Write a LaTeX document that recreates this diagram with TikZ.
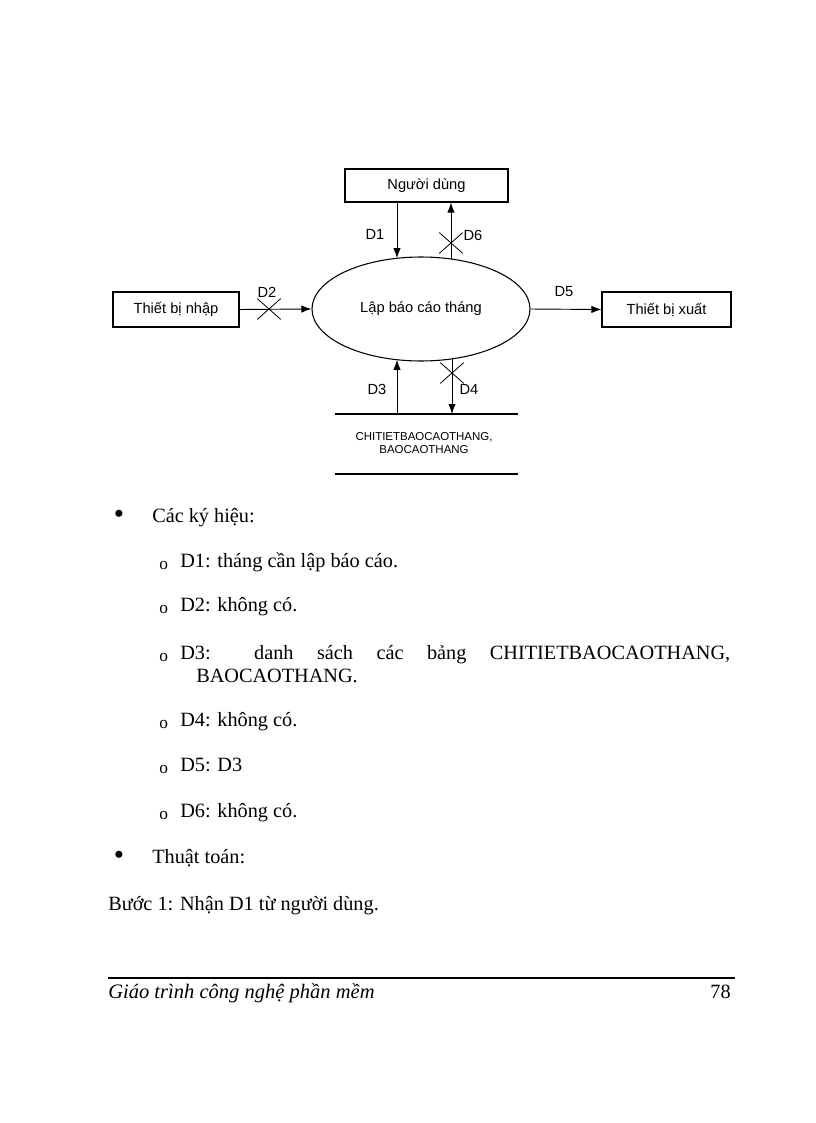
\documentclass[tikz,border=0pt]{standalone}
\usepackage{fontspec}
\setmainfont{Liberation Serif}
\newfontfamily\arialfont{Liberation Sans}
\usetikzlibrary{arrows.meta,shapes.misc,shapes.geometric}
\begin{document}
\begin{tikzpicture}[x=0.75pt,y=-0.75pt,
  box/.style={draw, line width=0.8pt, inner sep=0pt, font=\arialfont\fontsize{11}{13}\selectfont},
  proc/.style={draw, ellipse, line width=0.8pt, inner sep=0pt, minimum width=163.5pt, minimum height=78pt, font=\arialfont\fontsize{11}{13}\selectfont},
  flow/.style={line width=0.7pt, -{Latex[length=7.5pt,width=5.5pt]}},
  lbl/.style={font=\arialfont\fontsize{11}{13}\selectfont, inner sep=0pt},
  xmark/.style={draw, cross out, line width=0.6pt, inner sep=0pt, minimum width=17pt, minimum height=15pt},
  storeline/.style={line width=1.6pt},
  body/.style={anchor=base west, inner sep=0pt, font=\fontsize{15.2}{17.25}\selectfont},
  subo/.style={anchor=base west, inner sep=0pt, font=\fontsize{13}{15}\selectfont},
  dot/.style={inner sep=0pt, font=\fontsize{22}{24}\selectfont}
]
\useasboundingbox (0,0) rectangle (816,1123);

% diagram nodes
\node[box, minimum width=122.25pt, minimum height=24.75pt] (user) at (426.5,185.5) {Người dùng};
\node[box, minimum width=94.5pt, minimum height=26.25pt] (inp) at (176,309.5) {Thiết bị nhập};
\node[box, minimum width=96.75pt, minimum height=26.25pt] (outp) at (666.5,309.5) {Thiết bị xuất};
\node[proc] (p) at (421,309) {Lập báo cáo tháng};

\coordinate (e1) at (397,258.2);
\coordinate (e6) at (451,259.1);
\coordinate (e3) at (397,359.8);
\coordinate (e4) at (452,358.9);

% store
\coordinate (stl) at (335,414);
\coordinate (str) at (518,414);
\coordinate (sbl) at (335,474);
\coordinate (sbr) at (518,474);
\draw[storeline] (stl) -- (str);
\draw[storeline] (sbl) -- (sbr);
\node[inner sep=0pt, align=center, font=\arialfont\fontsize{8.6}{10}\selectfont] (store) at (424,443) {CHITIETBAOCAOTHANG,\\BAOCAOTHANG};
\coordinate (s3) at (397,414);
\coordinate (s4) at (452,414);

% flows
\draw[flow] (user.south -| e1) -- (e1);
\draw[flow] (e6) -- (user.south -| e6);
\draw[flow] (inp.east) -- (p.west);
\draw[flow] (p.east) -- (outp.west);
\draw[flow] (s3) -- (e3);
\draw[flow] (e4) -- (s4);

% crosses
\node[xmark] (x2) at (269,309) {};
\node[xmark] (x6) at (451,243) {};
\node[xmark] (x4) at (452,373) {};

% labels
\node[lbl] (l1) at (375,234) {D1};
\node[lbl] (l6) at (473,235) {D6};
\node[lbl] (l2) at (267,292) {D2};
\node[lbl] (l5) at (564,292) {D5};
\node[lbl] (l3) at (377,389) {D3};
\node[lbl] (l4) at (469,389) {D4};

% body text
\node[dot] (b1) at (119,517) {\textbullet};
\node[body] (t1) at (152,522) {Các ký hiệu:};

\node[subo] (o1) at (159,569) {o};
\node[body] (t2) at (180,567) {D1: tháng cần lập báo cáo.};
\node[subo] (o2) at (159,613) {o};
\node[body] (t3) at (180,611) {D2: không có.};
\node[subo] (o3) at (159,661) {o};
\node[body] (t4) at (180,659) {\makebox[412.5pt][s]{D3: danh sách các bảng CHITIETBAOCAOTHANG,}};
\node[body] (t4b) at (196,682) {BAOCAOTHANG.};
\node[subo] (o4) at (159,728) {o};
\node[body] (t5) at (180,726) {D4: không có.};
\node[subo] (o5) at (159,773) {o};
\node[body] (t6) at (180,771) {D5: D3};
\node[subo] (o6) at (159,819) {o};
\node[body] (t7) at (180,817) {D6: không có.};

\node[dot] (b2) at (119,858) {\textbullet};
\node[body] (t8) at (152,863) {Thuật toán:};
\node[body] (t9) at (108,910) {Bước 1: Nhận D1 từ người dùng.};

% footer
\coordinate (fl) at (108,978);
\coordinate (fr) at (735,978);
\draw[line width=0.8pt] (fl) -- (fr);
\node[body, font=\itshape\fontsize{15.4}{17.25}\selectfont] (ft) at (108,998) {Giáo trình công nghệ phần mềm};
\node[body, anchor=base east] (pg) at (731,998) {78};
\end{tikzpicture}
\end{document}
